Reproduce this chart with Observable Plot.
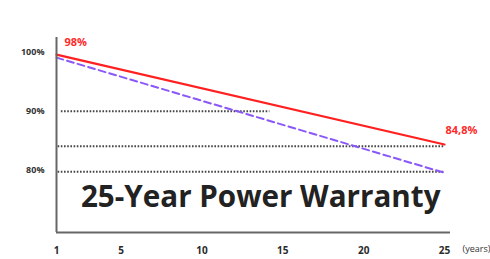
<!DOCTYPE html>
<html>
<head>
<meta charset="utf-8">
<script src="https://cdn.jsdelivr.net/npm/d3@7"></script>
<script src="https://cdn.jsdelivr.net/npm/@observablehq/plot@0.6"></script>
<style>
  html, body { margin: 0; padding: 0; background: #fff; overflow: hidden; }
  #chart svg { display: block; }
</style>
</head>
<body>
<div id="chart"></div>
<script>
// Data
const years = [1, 25];
const warrantyValues = [99.6, 84.4];   // red solid line
const degradedValues = [99.1, 79.6];   // purple dashed line
const refLevels = [90, 84.1, 79.8];    // dotted guide lines
const refStart = [1.3, 1.1, 1.1];
const refEnd = [14.2, 25, 25];
const xTicks = [1, 5, 10, 15, 20, 25];
const yTicks = [80, 90, 100];
const startLabel = "98%";
const endLabel = "84,8%";
const title = "25-Year Power Warranty";
const unitLabel = "(years)";

const warranty = years.map((x, i) => ({x, y: warrantyValues[i]}));
const degraded = years.map((x, i) => ({x, y: degradedValues[i]}));
const refs = refLevels.map((y, i) => ({y, x1: refStart[i], x2: refEnd[i]}));

const font = "'Open Sans', Roboto, sans-serif";
const yMin = 69.5, yMax = 102.5;

const chart = Plot.plot({
  width: 490,
  height: 259,
  marginLeft: 56,
  marginRight: 46,
  marginTop: 37,
  marginBottom: 27,
  style: {fontFamily: font, background: "#fff", overflow: "hidden"},
  x: {domain: [1, 25], label: null},
  y: {domain: [yMin, yMax], label: null},
  marks: [
    Plot.ruleY(refs, {y: "y", x1: "x1", x2: "x2", stroke: "#444", strokeWidth: 2, strokeDasharray: "1.6 1.6"}),
    Plot.line(degraded, {x: "x", y: "y", stroke: "#8a58f6", strokeWidth: 2, strokeDasharray: "7 4"}),
    Plot.line(warranty, {x: "x", y: "y", stroke: "#ff2020", strokeWidth: 2.2}),
    Plot.ruleX([years[0]], {y1: yMin, y2: yMax, stroke: "#666", strokeWidth: 2}),
    Plot.ruleY([yMin], {x1: years[0], x2: 25.37, stroke: "#666", strokeWidth: 2}),
    Plot.axisX({ticks: xTicks, tickSize: 0, tickPadding: 14, fontSize: 10, fontWeight: "bold", fill: "#2a2a2a", tickFormat: d => String(d), label: null}),
    Plot.axisY({ticks: yTicks, tickSize: 0, tickPadding: 12, fontSize: 9, fontWeight: "bold", fill: "#333", tickFormat: d => d + "%", label: null}),
    Plot.text([warranty[0]], {x: "x", y: "y", text: () => startLabel, dx: 8, dy: -12, textAnchor: "start", fill: "#ff2a2a", fontSize: 11, fontWeight: "bold"}),
    Plot.text([warranty[1]], {x: "x", y: "y", text: () => endLabel, dx: 1, dy: -14, textAnchor: "start", fill: "#ff2a2a", fontSize: 11, fontWeight: "bold"}),
    Plot.text([title], {frameAnchor: "bottom-right", text: d => d, textAnchor: "end", dx: -4, dy: -26, fontSize: 29.6, fontWeight: 700, fill: "#222"}),
    Plot.text([unitLabel], {frameAnchor: "bottom-right", text: d => d, textAnchor: "start", dx: 18, dy: 19, fontSize: 9, fill: "#333"})
  ]
});
document.getElementById("chart").appendChild(chart);
</script>
</body>
</html>
